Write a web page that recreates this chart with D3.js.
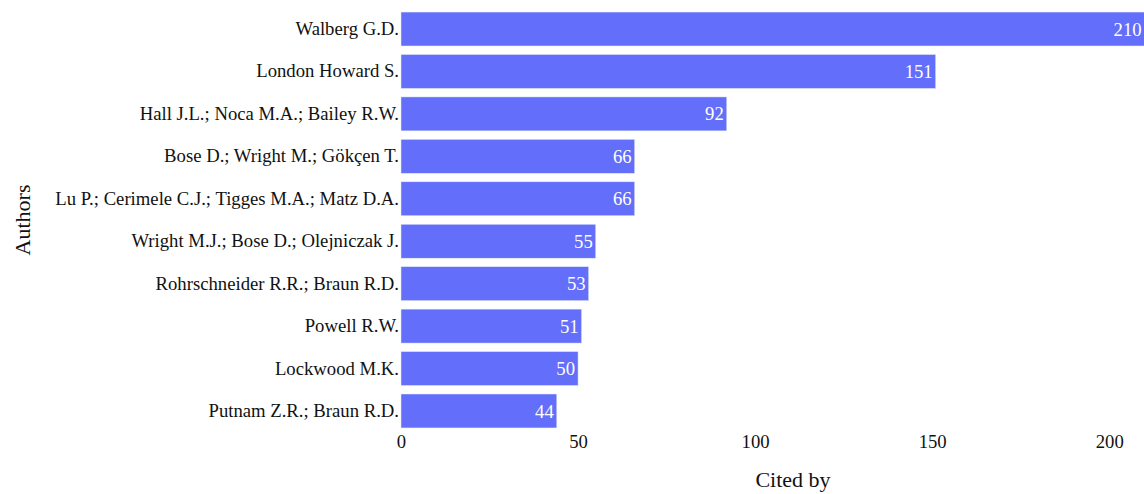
<!DOCTYPE html>
<html>
<head>
<meta charset="utf-8">
<script src="https://cdn.jsdelivr.net/npm/d3@7"></script>
<style>
  body { margin: 0; background: #fff; }
  svg { display: block; font-family: "Liberation Serif", "Times New Roman", serif; }
</style>
</head>
<body>
<svg id="chart" width="1144" height="494"></svg>
<script>
// data
var authors = [
  'Walberg G.D.',
  'London Howard S.',
  'Hall J.L.; Noca M.A.; Bailey R.W.',
  'Bose D.; Wright M.; Gökçen T.',
  'Lu P.; Cerimele C.J.; Tigges M.A.; Matz D.A.',
  'Wright M.J.; Bose D.; Olejniczak J.',
  'Rohrschneider R.R.; Braun R.D.',
  'Powell R.W.',
  'Lockwood M.K.',
  'Putnam Z.R.; Braun R.D.'
];
var citedBy = [210, 151, 92, 66, 66, 55, 53, 51, 50, 44];
var xTicks = [0, 50, 100, 150, 200];

// plot area (right edge runs a bit past the picture)
var plot = {left: 401, top: 7.8, bottom: 432.2, right: 1185};
var barColor = '#636efa';
var textColor = '#111';
var fontSize = 18.7;

var svg = d3.select('#chart');
var data = authors.map(function(a, i) { return {name: a, value: citedBy[i]}; });

var x = d3.scaleLinear().domain([0, 221.4]).range([plot.left, plot.right]);
var y = d3.scaleBand().domain(authors).range([plot.top, plot.bottom])
  .paddingInner(0.2).paddingOuter(0.1);

// bars
svg.selectAll('rect.bar').data(data)
  .enter().append('rect')
  .attr('class', 'bar')
  .attr('x', x(0))
  .attr('y', function(d) { return y(d.name); })
  .attr('width', function(d) { return x(d.value) - x(0); })
  .attr('height', y.bandwidth())
  .attr('fill', barColor)
  .attr('stroke', '#e5ecf6')
  .attr('stroke-width', 0.5);

// value labels inside bar end
svg.selectAll('text.val').data(data)
  .enter().append('text')
  .attr('class', 'val')
  .attr('x', function(d) { return x(d.value) - 3; })
  .attr('y', function(d) { return y(d.name) + y.bandwidth() / 2; })
  .attr('dy', '0.35em')
  .attr('text-anchor', 'end')
  .attr('fill', '#fff')
  .attr('font-size', fontSize)
  .text(function(d) { return d.value; });

// y axis labels
var yAxis = d3.axisLeft(y).tickSize(0).tickPadding(2);
var gy = svg.append('g').attr('transform', 'translate(' + plot.left + ',0)').call(yAxis);
gy.select('.domain').remove();
gy.selectAll('text').attr('font-size', fontSize).attr('fill', textColor)
  .style('font-family', '"Liberation Serif", serif');

// x axis labels
var xAxis = d3.axisBottom(x).tickValues(xTicks).tickSize(0).tickPadding(3);
var gx = svg.append('g').attr('transform', 'translate(0,' + plot.bottom + ')').call(xAxis);
gx.select('.domain').remove();
gx.selectAll('text').attr('font-size', fontSize).attr('fill', textColor)
  .style('font-family', '"Liberation Serif", serif');

// axis titles
svg.append('text')
  .attr('x', (plot.left + plot.right) / 2)
  .attr('y', 487)
  .attr('text-anchor', 'middle')
  .attr('font-size', 22)
  .attr('fill', textColor)
  .text('Cited by');

svg.append('text')
  .attr('transform', 'translate(30,' + (plot.top + plot.bottom) / 2 + ') rotate(-90)')
  .attr('text-anchor', 'middle')
  .attr('font-size', 22)
  .attr('fill', textColor)
  .text('Authors');
</script>
</body>
</html>
